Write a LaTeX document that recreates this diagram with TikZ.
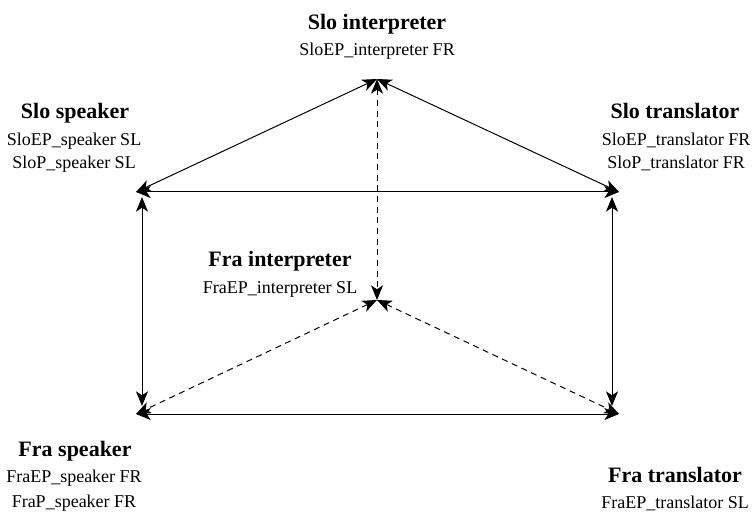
\documentclass[tikz,border=0pt]{standalone}
\usepackage{fontspec}
\setmainfont{Liberation Serif}
\usetikzlibrary{arrows.meta}

\begin{document}
\begin{tikzpicture}[x=0.75pt,y=-0.75pt,
  link/.style={{Stealth[length=11pt,width=9pt,inset=3pt]}-{Stealth[length=11pt,width=9pt,inset=3pt]},line width=0.75pt},
  guess/.style={link,dash pattern=on 4.5pt off 3.5pt},
  title/.style={anchor=base,inner sep=0pt,font=\fontsize{16.5}{18}\selectfont\bfseries},
  sub/.style={anchor=base,inner sep=0pt,font=\fontsize{13.5}{15}\selectfont}]
  \useasboundingbox (0,0) rectangle (753,513);
  % meeting points of the arrows
  \coordinate (si) at (377,79);
  \coordinate (fi) at (377,300);
  \coordinate (ss) at (136,192);
  \coordinate (st) at (619,192);
  \coordinate (fs) at (136,414);
  \coordinate (ft) at (619,414);
  % labels
  \node[title] (si-t) at (377,30) {Slo interpreter};
  \node[sub] (si-a) at (377,56) {SloEP\_interpreter FR};
  \node[title] (ss-t) at (75,119) {Slo speaker};
  \node[sub] (ss-a) at (74,146) {SloEP\_speaker SL};
  \node[sub] (ss-b) at (74,169) {SloP\_speaker SL};
  \node[title] (st-t) at (675,119) {Slo translator};
  \node[sub] (st-a) at (676,146) {SloEP\_translator FR};
  \node[sub] (st-b) at (676,169) {SloP\_translator FR};
  \node[title] (fi-t) at (280,267) {Fra interpreter};
  \node[sub] (fi-a) at (280,293) {FraEP\_interpreter SL};
  \node[title] (fs-t) at (75,456) {Fra speaker};
  \node[sub] (fs-a) at (74,482) {FraEP\_speaker FR};
  \node[sub] (fs-b) at (74,507) {FraP\_speaker FR};
  \node[title] (ft-t) at (675,482) {Fra translator};
  \node[sub] (ft-a) at (675,508) {FraEP\_translator SL};
  % solid links
  \draw[link] (ss) -- (si);
  \draw[link] (si) -- (st);
  \draw[link] (ss) -- (st);
  \draw[link] (fs) -- (ft);
  \draw[link] ([shift={(6,5)}]ss) -- ([shift={(6,-8)}]fs);
  \draw[link] ([shift={(-7,5)}]st) -- ([shift={(-7,-8)}]ft);
  % dashed links
  \draw[guess] (si) -- (fi);
  \draw[guess] (fi) -- (fs);
  \draw[guess] (fi) -- (ft);
\end{tikzpicture}
\end{document}
